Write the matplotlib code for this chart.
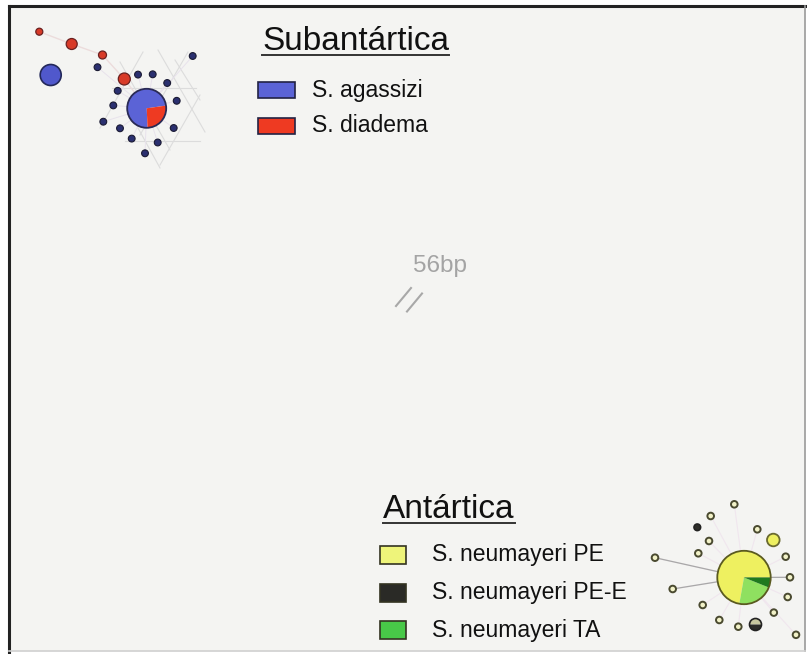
import matplotlib
matplotlib.use('Agg')
import matplotlib.pyplot as plt
from matplotlib.patches import Circle, Wedge, Rectangle
import numpy as np

plt.rcParams['font.family'] = ['Liberation Sans', 'DejaVu Sans']

W, H = 807, 654

# --- legend labels / groups
sub_title = 'Subantártica'
sub_labels = ['S. agassizi', 'S. diadema']
sub_colors = ['#5b63d6', '#ee3a22']
ant_title = 'Antártica'
ant_labels = ['S. neumayeri PE', 'S. neumayeri PE-E', 'S. neumayeri TA']
ant_colors = ['#eef47a', '#2a2a26', '#48c848']
gap_label = '56bp'

# --- subantarctic network (layout units)
sub_hub_xy = (146.7, 108.3)
sub_hub_size = 19.5
sub_hub_frac = [0.735, 0.265]          # agassizi, diadema
sub_hub_start = 8
sub_single_xy = (50.7, 75)
sub_single_size = 10.5
dia_x = [39.3, 71.7, 102.5, 124.3]
dia_y = [31.7, 44.0, 55.0, 79.0]
dia_size = [3.5, 5.5, 4.0, 6.0]
aga_x = [97.5, 138.0, 152.7, 167.2, 192.7, 117.7, 113.3, 176.7, 103.3, 120.0, 173.7, 131.7, 157.7, 145.0]
aga_y = [67.2, 74.6, 74.3, 83.0, 56.0, 90.8, 105.4, 100.8, 121.7, 128.3, 128.0, 138.6, 142.5, 153.3]
mesh = [((143, 52), (100, 128)), ((158, 50), (205, 132)), ((188, 52), (140, 135)),
        ((120, 62), (170, 150)), ((125, 141), (200, 141)), ((112, 88), (196, 88)),
        ((200, 95), (160, 165)), ((138, 128), (160, 168)), ((175, 60), (200, 100))]

# --- antarctic network
ant_hub_xy = (744.0, 577.5)
ant_hub_size = 26.7
ant_hub_frac = [0.722, 0.217, 0.061]    # PE, TA(light), TA(dark)
ant_hub_cols = ['#eef060', '#8fe060', '#1f7a1f']
ant_x = [734.3, 710.7, 757.3, 709.0, 698.3, 785.7, 655.0, 790.0, 672.7, 787.7, 702.7, 773.8, 719.3, 738.3, 796.0]
ant_y = [504.3, 516.0, 529.3, 541.0, 553.3, 556.7, 557.7, 577.3, 589.0, 597.0, 605.0, 612.6, 620.0, 626.7, 634.8]
ant_pee_xy = (697.3, 527.3)
ant_big_xy = (773.3, 540.0)
ant_mix_xy = (755.5, 624.5)
ant_links = [(655.0, 557.7), (672.7, 589.0), (790.0, 577.3)]

fig = plt.figure(figsize=(W / 100, H / 100), dpi=100)
ax = fig.add_axes([0, 0, 1, 1])
ax.set_xlim(0, W)
ax.set_ylim(H, 0)
ax.axis('off')
ax.set_aspect('equal')

# panel background and frame
ax.add_patch(Rectangle((9, 6), 796, 645, fc='#f4f4f2', ec='none', zorder=0))
ax.plot([9, 9], [6, H], color='#222222', lw=2.2, zorder=1)
ax.plot([9, 805], [6, 6], color='#222222', lw=2.2, zorder=1)
ax.plot([805, 805], [6, 651], color='#9a9a9a', lw=1.2, zorder=1)
ax.plot([9, 805], [651, 651], color='#d0d0d0', lw=1.2, zorder=1)


def pie(xy, r, fracs, cols, start, ec, lw=1.0, z=5):
    # visual angles counter-clockwise; y axis is inverted so flip sign
    a = start
    for f, c in zip(fracs, cols):
        b = a + f * 360
        ax.add_patch(Wedge(xy, r, -b, -a, fc=c, ec='none', zorder=z))
        a = b
    ax.add_patch(Circle(xy, r, fc='none', ec=ec, lw=lw, zorder=z + 1))


# subantarctic links
for (p, q) in mesh:
    ax.plot([p[0], q[0]], [p[1], q[1]], color='#dcdcdc', lw=0.8, zorder=2)
chain_x = dia_x + [sub_hub_xy[0]]
chain_y = dia_y + [sub_hub_xy[1]]
ax.plot(chain_x, chain_y, color='#ecdcdc', lw=1.0, zorder=2)
for x, y in zip(aga_x, aga_y):
    ax.plot([x, sub_hub_xy[0]], [y, sub_hub_xy[1]], color='#e8e2ec', lw=0.7, zorder=2)

pie(sub_hub_xy, sub_hub_size, sub_hub_frac, sub_colors, sub_hub_start, '#2a2a55', 1.3)
ax.add_patch(Circle(sub_single_xy, sub_single_size, fc='#5058cc', ec='#23285a', lw=1.2, zorder=5))
for x, y, s in zip(dia_x, dia_y, dia_size):
    ax.add_patch(Circle((x, y), s, fc='#d83a28', ec='#6a2020', lw=0.9, zorder=5))
for x, y in zip(aga_x, aga_y):
    ax.add_patch(Circle((x, y), 3.4, fc='#2b3070', ec='#1a1a33', lw=0.8, zorder=5))

# antarctic links
for x, y in zip(ant_x, ant_y):
    ax.plot([x, ant_hub_xy[0]], [y, ant_hub_xy[1]], color='#f0e6ee', lw=0.8, zorder=2)
for x, y in ant_links:
    ax.plot([x, ant_hub_xy[0]], [y, ant_hub_xy[1]], color='#a8a8a8', lw=0.9, zorder=2)

pie(ant_hub_xy, ant_hub_size, ant_hub_frac, ant_hub_cols, 0, '#5a5a20', 1.3)
for x, y in zip(ant_x, ant_y):
    ax.add_patch(Circle((x, y), 3.3, fc='#f2f2c8', ec='#4a4a30', lw=1.4, zorder=5))
ax.add_patch(Circle(ant_pee_xy, 3.3, fc='#2e2e2a', ec='#222222', lw=1.2, zorder=5))
ax.add_patch(Circle(ant_big_xy, 6.3, fc='#eef060', ec='#6a6a30', lw=1.3, zorder=5))
pie(ant_mix_xy, 6.0, [0.5, 0.5], ['#c8c8a0', '#2e2e2a'], 0, '#222222', 1.2)

# gap marker
ax.text(413, 272, gap_label, fontsize=17.5, color='#a4a4a4', va='baseline', ha='left')
for dx in (0, 11):
    ax.plot([396 + dx, 411 + dx], [306 + dx * 0.5, 288 + dx * 0.5], color='#a8a8a8', lw=1.5, zorder=3)

# legends
renderer = fig.canvas.get_renderer()


def title(x, y, s):
    t = ax.text(x, y, s, fontsize=24, color='#111111', va='baseline', ha='left')
    bb = t.get_window_extent(renderer)
    ax.plot([bb.x0, bb.x1], [y + 4.5, y + 4.5], color='#333333', lw=1.4)


title(262, 50, sub_title)
for i, (lab, c) in enumerate(zip(sub_labels, sub_colors)):
    yc = 90 + i * 36
    ax.add_patch(Rectangle((258, yc - 8), 37, 16, fc=c, ec='#222244', lw=1.2, zorder=4))
    ax.text(312, yc, lab, fontsize=16.5, color='#111111', va='center', ha='left')

title(383, 518, ant_title)
for i, (lab, c) in enumerate(zip(ant_labels, ant_colors)):
    yc = 555 + i * 37.5
    ax.add_patch(Rectangle((380, yc - 9), 26, 18, fc=c, ec='#333322', lw=1.2, zorder=4))
    ax.text(432, yc, lab, fontsize=16.5, color='#111111', va='center', ha='left')

fig.savefig('out.png', dpi=100, facecolor='white')
